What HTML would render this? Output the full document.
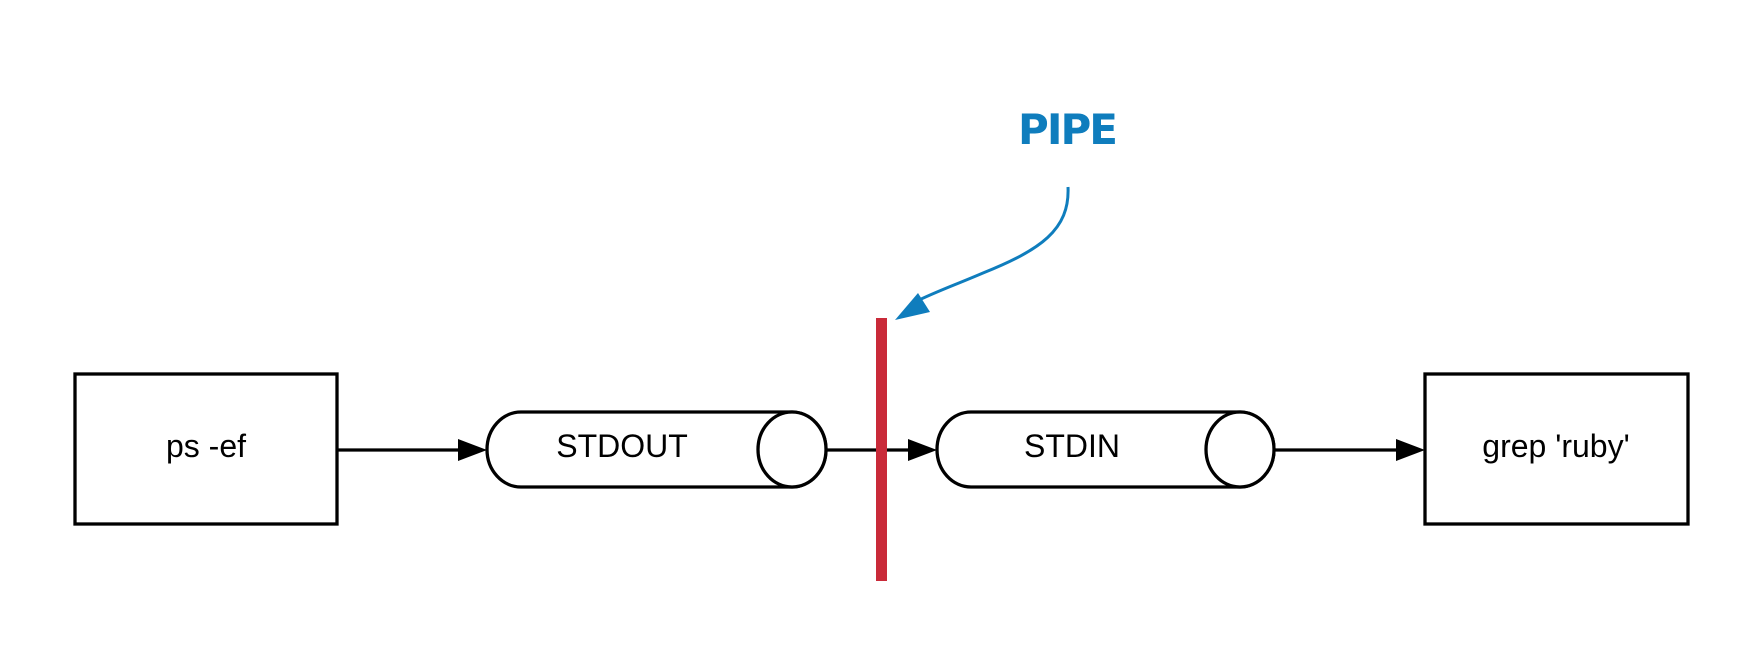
<!DOCTYPE html>
<html><head><style>body{margin:0;background:#fff}svg{display:block}</style></head><body>
<svg width="1763" height="656" viewBox="0 0 1763 656" xmlns="http://www.w3.org/2000/svg">
<g fill="#fff" stroke="#000" stroke-width="3.3">
<rect x="75" y="374" width="262" height="150"/>
<rect x="1425" y="374" width="263" height="150"/>
<path d="M521,412 H792 A34,37.5 0 0 1 792,487 H521 A34,37.5 0 0 1 521,412 Z"/>
<ellipse cx="792" cy="449.5" rx="34" ry="37.5"/>
<path d="M971,412 H1240 A34,37.5 0 0 1 1240,487 H971 A34,37.5 0 0 1 971,412 Z"/>
<ellipse cx="1240" cy="449.5" rx="34" ry="37.5"/>
</g>
<g stroke="#000" stroke-width="3.3" fill="#000">
<line x1="337" y1="450" x2="460" y2="450"/><path d="M458,439 L487,450 L458,461 Z" stroke="none"/>
<line x1="826" y1="450" x2="910" y2="450"/><path d="M908,439 L937,450 L908,461 Z" stroke="none"/>
<line x1="1274" y1="450" x2="1398" y2="450"/><path d="M1396,439 L1425,450 L1396,461 Z" stroke="none"/>
</g>
<rect x="876" y="318" width="11" height="263" fill="#c92a39"/>
<g font-family="Liberation Sans, sans-serif" font-size="32" text-anchor="middle" fill="#000">
<text x="206" y="457">ps -ef</text>
<text x="622" y="457">STDOUT</text>
<text x="1072" y="457">STDIN</text>
<text x="1556" y="457">grep 'ruby'</text>
</g>
<text x="1068" y="144" font-family="'DejaVu Sans',sans-serif" font-weight="bold" font-size="42" fill="#0f7dbd" text-anchor="middle" textLength="100">PIPE</text>
<path d="M1068,187 C1070,230 1040,250 983,273 C955,285 935,292 915,302" fill="none" stroke="#0f7dbd" stroke-width="3"/>
<path d="M895,320 L918,293 L930,312 Z" fill="#0f7dbd"/>
</svg>
</body></html>
